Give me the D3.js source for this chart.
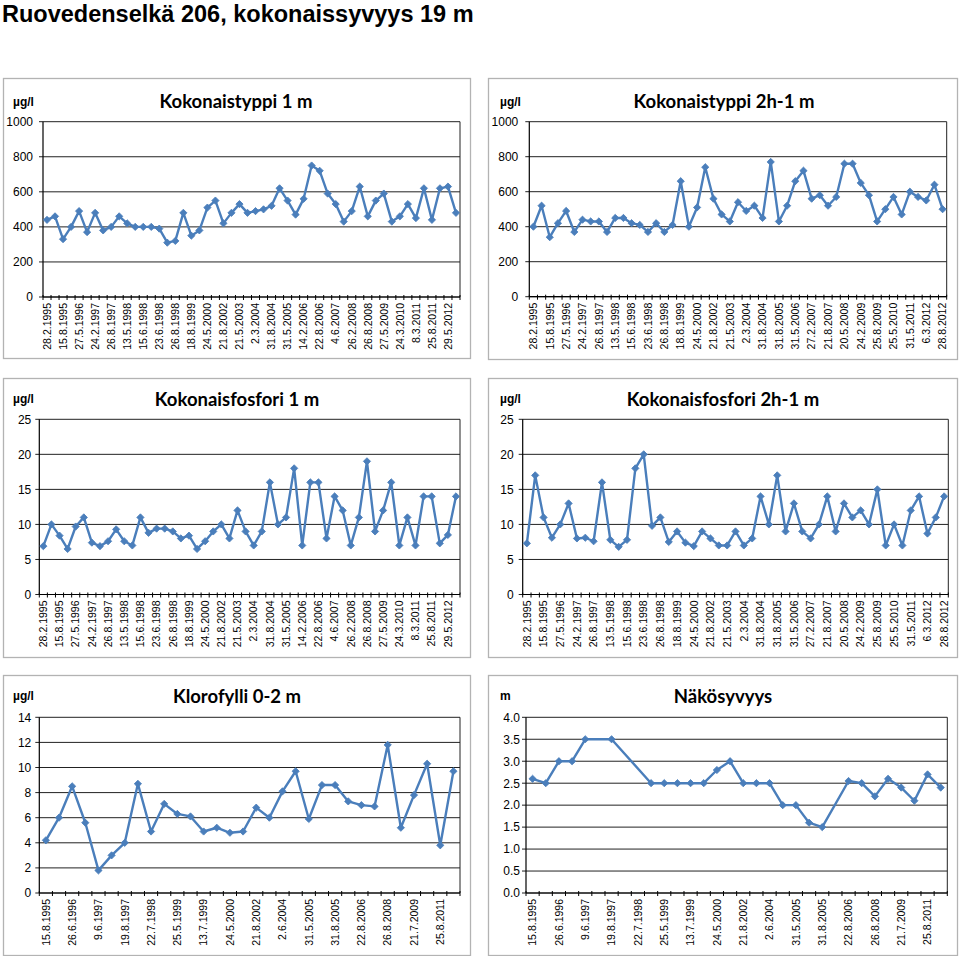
<!DOCTYPE html>
<html><head><meta charset="utf-8">
<script src="https://cdn.jsdelivr.net/npm/d3@7"></script>
<style>body{margin:0;background:#fff} svg{display:block}</style>
</head><body>
<svg id="c" width="960" height="956"></svg>
<script>
// ---------- DATA ----------
const mainTitle = "Ruovedenselkä 206, kokonaissyvyys 19 m";

const tnLabels1 = ["28.2.1995","15.8.1995","27.5.1996","24.2.1997","26.8.1997","13.5.1998","15.6.1998","23.6.1998","26.8.1998","18.8.1999","24.5.2000","21.8.2002","21.5.2003","2.3.2004","31.8.2004","31.5.2005","14.2.2006","22.8.2006","4.6.2007","26.2.2008","26.8.2008","27.5.2009","24.3.2010","8.3.2011","25.8.2011","29.5.2012"];
const tn1 = [440,460,330,400,490,370,480,380,400,460,420,400,400,400,390,310,320,480,350,380,510,550,420,480,530,480,490,500,520,620,550,470,560,750,720,590,530,430,490,630,460,550,590,430,460,530,450,620,440,620,630,480];

const tnLabels2 = ["28.2.1995","15.8.1995","27.5.1996","24.2.1997","26.8.1997","13.5.1998","15.6.1998","23.6.1998","26.8.1998","18.8.1999","24.5.2000","21.8.2002","21.5.2003","2.3.2004","31.8.2004","31.8.2005","31.5.2006","27.2.2007","21.8.2007","20.5.2008","24.2.2009","25.8.2009","25.5.2010","31.5.2011","6.3.2012","28.8.2012"];
const tn2 = [400,520,340,420,490,370,440,430,430,370,450,450,420,410,370,420,370,410,660,400,510,740,560,470,430,540,490,520,450,770,430,520,660,720,560,580,520,570,760,760,650,580,430,500,570,470,600,570,550,640,500];

const tpLabels1 = ["28.2.1995","15.8.1995","27.5.1996","24.2.1997","26.8.1997","13.5.1998","15.6.1998","23.6.1998","26.8.1998","18.8.1999","24.5.2000","21.8.2002","21.5.2003","2.3.2004","31.8.2004","31.5.2005","14.2.2006","22.8.2006","4.6.2007","26.2.2008","26.8.2008","27.5.2009","24.3.2010","8.3.2011","25.8.2011","29.5.2012"];
const tp1 = [6.9,10,8.4,6.5,9.7,11,7.4,6.9,7.6,9.3,7.6,7,11,8.8,9.4,9.4,9,8,8.4,6.5,7.6,9,10,8,12,9,7,9,16,10,11,18,7,16,16,8,14,12,7,11,19,9,12,16,7,11,7,14,14,7.3,8.5,14];

const tpLabels2 = ["28.2.1995","15.8.1995","27.5.1996","24.2.1997","26.8.1997","13.5.1998","15.6.1998","23.6.1998","26.8.1998","18.8.1999","24.5.2000","21.8.2002","21.5.2003","2.3.2004","31.8.2004","31.8.2005","31.5.2006","27.2.2007","21.8.2007","20.5.2008","24.2.2009","25.8.2009","25.5.2010","31.5.2011","6.3.2012","28.8.2012"];
const tp2 = [7.3,17,11,8.1,10,13,8,8.1,7.6,16,7.8,6.8,7.8,18,20,9.8,11,7.5,9,7.4,6.9,9,8,7,7,9,7,8,14,10,17,9,13,9,8,10,14,9,13,11,12,10,15,7,10,7,12,14,8.7,11,14];

const chlLabels = ["15.8.1995","26.6.1996","9.6.1997","19.8.1997","22.7.1998","25.5.1999","13.7.1999","24.5.2000","21.8.2002","2.6.2004","31.5.2005","31.8.2005","22.8.2006","26.8.2008","21.7.2009","25.8.2011"];
const chl = [4.2,6,8.5,5.6,1.8,3,4,8.7,4.9,7.1,6.3,6.1,4.9,5.2,4.8,4.9,6.8,6,8.1,9.7,5.9,8.6,8.6,7.3,7,6.9,11.8,5.2,7.8,10.3,3.8,9.7];

const secchiLabels = ["15.8.1995","26.6.1996","9.6.1997","19.8.1997","22.7.1998","25.5.1999","13.7.1999","24.5.2000","21.8.2002","2.6.2004","31.5.2005","31.8.2005","22.8.2006","26.8.2008","21.7.2009","25.8.2011"];
const secchi = [2.6,2.5,3.0,3.0,3.5,null,3.5,null,null,2.5,2.5,2.5,2.5,2.5,2.8,3.0,2.5,2.5,2.5,2.0,2.0,1.6,1.5,null,2.55,2.5,2.2,2.6,2.4,2.1,2.7,2.4];

const ticksN = [0,200,400,600,800,1000];
const ticksP = [0,5,10,15,20,25];
const ticksChl = [0,2,4,6,8,10,12,14];
const ticksSecchi = [0,0.5,1.0,1.5,2.0,2.5,3.0,3.5,4.0];

// ---------- LAYOUT ----------
const panels = [
  {title:"Kokonaistyppi 1 m", unit:"µg/l", values:tn1, labels:tnLabels1, ticks:ticksN, fmt:d3.format("d"),
   box:[3,78,467,280], x0:43, x1:460, yT:121.7, yB:297, tx:236, ty:108, ux:13, uy:106, lo:10},
  {title:"Kokonaistyppi 2h-1 m", unit:"µg/l", values:tn2, labels:tnLabels2, ticks:ticksN, fmt:d3.format("d"),
   box:[488,78,469,281], x0:529.3, x1:946.7, yT:121.7, yB:296.7, tx:724, ty:108, ux:500, uy:106, lo:11},
  {title:"Kokonaisfosfori 1 m", unit:"µg/l", values:tp1, labels:tpLabels1, ticks:ticksP, fmt:d3.format("d"),
   box:[3,378,467,279], x0:39.3, x1:460, yT:419.3, yB:594.5, tx:237, ty:406, ux:13, uy:403, lo:8},
  {title:"Kokonaisfosfori 2h-1 m", unit:"µg/l", values:tp2, labels:tpLabels2, ticks:ticksP, fmt:d3.format("d"),
   box:[488,378,469,279], x0:522.7, x1:948.3, yT:419.3, yB:594.5, tx:723, ty:406, ux:500, uy:403, lo:9},
  {title:"Klorofylli 0-2 m", unit:"µg/l", values:chl, labels:chlLabels, ticks:ticksChl, fmt:d3.format("d"),
   box:[3,675,467,280], x0:39.3, x1:460, yT:717.3, yB:893, tx:237, ty:703, ux:13, uy:700, lo:8},
  {title:"Näkösyvyys", unit:"m", values:secchi, labels:secchiLabels, ticks:ticksSecchi, fmt:d3.format(".1f"),
   box:[488,675,469,280], x0:526, x1:947.3, yT:717.3, yB:893, tx:723, ty:703, ux:500, uy:700, lo:6}
];

const BLUE = "#4a7ebb";
const svg = d3.select("#c");
svg.append("rect").attr("width",960).attr("height",956).attr("fill","#fff");

svg.append("text").attr("x",2).attr("y",22)
  .attr("font-family","'Liberation Sans', Arial, sans-serif").attr("font-weight","bold")
  .attr("font-size",23.5).attr("fill","#000").text(mainTitle);

const diamond = d3.symbol().type(d3.symbolSquare).size(26);

panels.forEach(p => {
  const g = svg.append("g");
  g.append("rect").attr("x",p.box[0]+0.5).attr("y",p.box[1]+0.5).attr("width",p.box[2]).attr("height",p.box[3])
    .attr("fill","#fff").attr("stroke","#b3b3b3").attr("stroke-width",1.3);

  const n = p.values.length;
  const x = d3.scaleBand().domain(d3.range(n)).range([p.x0,p.x1]).paddingInner(0).paddingOuter(0);
  const cx = i => x(i) + x.bandwidth()/2;
  const y = d3.scaleLinear().domain([p.ticks[0], p.ticks[p.ticks.length-1]]).range([p.yB,p.yT]);

  g.selectAll(".grid").data(p.ticks).join("line")
    .attr("x1",p.x0-4).attr("x2",p.x1).attr("y1",d=>y(d)).attr("y2",d=>y(d))
    .attr("stroke","#222").attr("stroke-width",1);
  g.append("line").attr("x1",p.x1).attr("x2",p.x1).attr("y1",p.yT).attr("y2",p.yB).attr("stroke","#222").attr("stroke-width",1);
  g.append("line").attr("x1",p.x0).attr("x2",p.x0).attr("y1",p.yT).attr("y2",p.yB).attr("stroke","#000").attr("stroke-width",1.2);
  g.append("line").attr("x1",p.x0).attr("x2",p.x1).attr("y1",p.yB).attr("y2",p.yB).attr("stroke","#000").attr("stroke-width",1.2);
  const bounds = d3.range(n+1).map(i => p.x0 + i*x.step());
  g.selectAll(".xt").data(bounds).join("line")
    .attr("x1",d=>d).attr("x2",d=>d).attr("y1",p.yB-2).attr("y2",p.yB+3)
    .attr("stroke","#000").attr("stroke-width",1);

  g.selectAll(".yl").data(p.ticks).join("text")
    .attr("x",p.x0-p.lo).attr("y",d=>y(d)).attr("dy","0.36em")
    .attr("text-anchor","end").attr("font-family","'Liberation Sans', Arial, sans-serif")
    .attr("font-size",12).attr("fill","#000").text(d=>p.fmt(d));

  g.selectAll(".xl").data(p.labels).join("text")
    .attr("transform",(d,k)=>`translate(${cx(2*k)},${p.yB+6}) rotate(-90)`)
    .attr("dy","0.36em").attr("text-anchor","end")
    .attr("font-family","'Liberation Sans', Arial, sans-serif").attr("font-size",10.5).attr("fill","#000")
    .text(d=>d);

  g.append("text").attr("x",p.tx).attr("y",p.ty).attr("text-anchor","middle")
    .attr("font-family","Lato, 'Open Sans', sans-serif").attr("font-weight","bold").attr("font-size",18.5)
    .attr("fill","#000").text(p.title);
  g.append("text").attr("x",p.ux).attr("y",p.uy)
    .attr("font-family","'Liberation Sans', Arial, sans-serif").attr("font-weight","bold").attr("font-size",12)
    .attr("fill","#000").text(p.unit);

  const pts = p.values.map((v,i)=>({i,v})).filter(d=>d.v!=null);
  g.append("path").datum(pts)
    .attr("d", d3.line().x(d=>cx(d.i)).y(d=>y(d.v)))
    .attr("fill","none").attr("stroke",BLUE).attr("stroke-width",2.4).attr("stroke-linejoin","round");
  g.selectAll(".mk").data(pts).join("path")
    .attr("d",diamond)
    .attr("transform",d=>`translate(${cx(d.i)},${y(d.v)}) rotate(45)`)
    .attr("fill",BLUE).attr("stroke",BLUE).attr("stroke-width",0.8);
});
</script>
</body></html>
